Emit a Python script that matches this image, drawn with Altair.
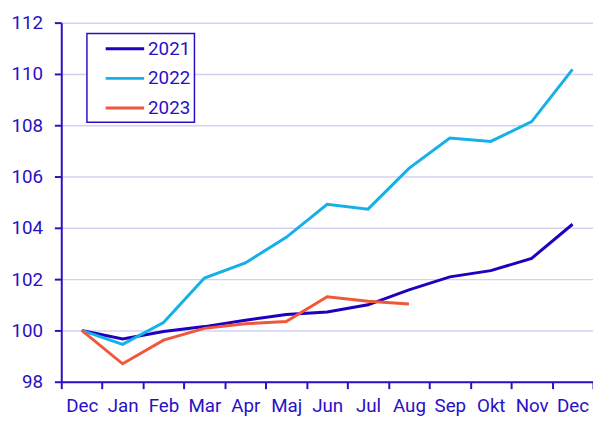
import altair as alt
import pandas as pd

months = ["Dec", "Jan", "Feb", "Mar", "Apr", "Maj", "Jun", "Jul", "Aug", "Sep", "Okt", "Nov", "Dec"]
v2021 = [100.0, 99.67, 99.96, 100.15, 100.4, 100.62, 100.72, 101.0, 101.58, 102.09, 102.33, 102.81, 104.14]
v2022 = [100.0, 99.46, 100.31, 102.04, 102.63, 103.63, 104.92, 104.73, 106.32, 107.5, 107.37, 108.14, 110.18]
v2023 = [100.0, 98.70, 99.62, 100.08, 100.26, 100.35, 101.31, 101.14, 101.03]

rows = []
for year, vals in (("2021", v2021), ("2022", v2022), ("2023", v2023)):
    for i, v in enumerate(vals):
        rows.append({"idx": i, "year": year, "value": v})
df = pd.DataFrame(rows)

axis_col = "#2a10c4"
label_expr = "[" + ",".join("'%s'" % m for m in months) + "][datum.value]"

chart = alt.Chart(df).mark_line(strokeWidth=3).encode(
    x=alt.X("idx:O", title=None,
            scale=alt.Scale(type="band", paddingInner=0, paddingOuter=0),
            axis=alt.Axis(labelExpr=label_expr, labelAngle=0, tickBand="extent",
                          grid=False, tickSize=7, labelPadding=8)),
    y=alt.Y("value:Q", title=None,
            scale=alt.Scale(domain=[98, 112], nice=False, zero=False),
            axis=alt.Axis(values=[98, 100, 102, 104, 106, 108, 110, 112],
                          tickSize=7, labelPadding=12, grid=True)),
    color=alt.Color("year:N", title=None,
                    scale=alt.Scale(domain=["2021", "2022", "2023"],
                                    range=["#1e00be", "#16b0e8", "#f0583c"]),
                    legend=alt.Legend(orient="none", legendX=26, legendY=11,
                                      symbolType="M-1.95,0H1.95", symbolSize=400,
                                      symbolStrokeWidth=3, strokeColor=axis_col,
                                      symbolOffset=23, labelOffset=12,
                                      labelExpr="datum.label + '   '",
                                      padding=4, rowPadding=8)),
).properties(
    width=539, height=364,
    autosize=alt.AutoSizeParams(type="none"),
    padding={"left": 54, "top": 12, "right": 0, "bottom": 40},
).configure_view(stroke=None).configure_axis(
    domainColor=axis_col, domainWidth=2, tickColor=axis_col, tickWidth=2,
    labelColor=axis_col, labelFont="Roboto", labelFontSize=19,
    gridColor="#d4d0f4", gridWidth=1.5,
).configure_legend(
    labelColor=axis_col, labelFont="Roboto", labelFontSize=19,
    fillColor="white", strokeWidth=1.5,
)

chart.save("out.html", embed_options={"renderer": "svg", "actions": False})
